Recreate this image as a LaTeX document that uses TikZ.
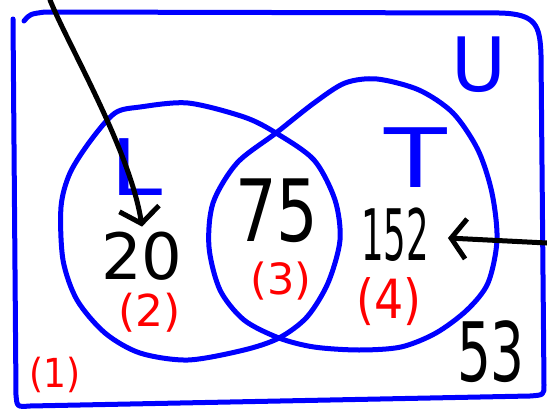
\documentclass[tikz,border=0pt]{standalone}
\usepackage{fontspec}
\setmainfont{DejaVu Sans}
\usetikzlibrary{
    calc,
    arrows.meta
}
\definecolor{AzulVenn}{HTML}{0000FF}
\definecolor{VermelhoRegiao}{HTML}{FF0000}

\begin{document}
\begin{tikzpicture}[
    x=1pt, y=-1pt,
    conjunto/.style={draw=AzulVenn, line width=5pt, line cap=round, line join=round},
    rotulo/.style={text=AzulVenn, inner sep=0pt},
    valor/.style={text=black, inner sep=0pt},
    regiao/.style={text=VermelhoRegiao, inner sep=0pt},
    seta/.style={draw=black, line width=5pt, line cap=round,
        -{Straight Barb[length=15pt,width=40pt]}}
]

    \useasboundingbox (0,0) rectangle (547,410);

    \draw[conjunto] (24,21) .. controls (30,14) .. (45,12) -- (500,13)
        .. controls (536,14) and (540,25) .. (541,55) -- (544,385)
        .. controls (544,395) .. (530,396) -- (30,406)
        .. controls (17,407) .. (16,395) -- (13,19);

    \draw[conjunto] plot[smooth cycle] coordinates {
        (140,107) (188,103) (244,117) (276,133) (314,160) (335,200)
        (340,240) (328,283) (307,317) (279,338) (244,350) (188,360)
        (140,353) (105,333) (77,300) (63,260) (61,207) (70,173)
        (91,140) (115,113)};

    \draw[conjunto] plot[smooth cycle] coordinates {
        (345,83) (377,79) (419,90) (453,113) (478,150) (492,193)
        (497,240) (488,283) (467,310) (436,333) (401,347) (359,350)
        (314,347) (279,338) (244,320) (220,290) (209,247) (213,203)
        (237,163) (276,133) (314,103)};

    \node[rotulo, font={\fontsize{75}{75}\selectfont}] (rotU) at (479,65) {U};
    \node[rotulo, font={\fontsize{82}{82}\selectfont}, xscale=1.25] (rotT) at (416,158) {T};
    \node[rotulo, font={\fontsize{78}{78}\selectfont}, xscale=1.2] (rotL) at (137,167) {L};

    \node[valor, font={\fontsize{64}{64}\selectfont}] (n20) at (142,256) {20};
    \node[valor, font={\fontsize{86}{86}\selectfont}, xscale=0.76] (n75) at (277,211) {75};
    \node[valor, font={\fontsize{71}{72}\selectfont}, xscale=0.5] (n152) at (395,235) {152};
    \node[valor, font={\fontsize{82}{82}\selectfont}, xscale=0.65] (n53) at (491,352) {53};

    \node[regiao, font={\fontsize{40}{40}\selectfont}, xscale=0.9] (r1) at (55,375) {(1)};
    \node[regiao, font={\fontsize{44}{44}\selectfont}] (r2) at (150,313) {(2)};
    \node[regiao, font={\fontsize{43}{43}\selectfont}] (r3) at (281,281) {(3)};
    \node[regiao, font={\fontsize{54}{54}\selectfont}, xscale=0.85] (r4) at (389,302) {(4)};

    \coordinate (entradaL) at (50,0);
    \coordinate (entradaT) at (547,243);

    \draw[seta] (entradaL) .. controls (68,45) and (130,150) .. ([yshift=5pt]n20.north);
    \draw[seta] (entradaT) -- ([shift={(19pt,-3pt)}]n152.east);

\end{tikzpicture}
\end{document}
